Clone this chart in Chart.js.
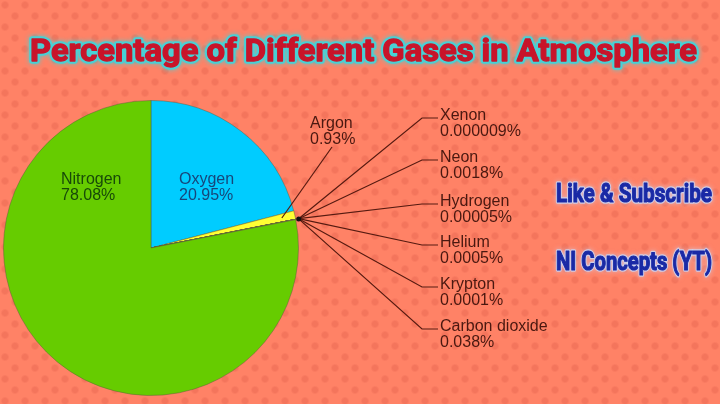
<!DOCTYPE html>
<html>
<head>
<meta charset="utf-8">
<script src="https://cdn.jsdelivr.net/npm/chart.js@4.4.1/dist/chart.umd.min.js"></script>
<style>
    html, body {
        margin: 0;
        padding: 0;
    }
    body {
        width: 720px;
        height: 404px;
        overflow: hidden;
        background-color: #ff8266;
        background-image:
            radial-gradient(circle at 5px 5px, #f4755c 0, #f4755c 2.5px, rgba(244,117,92,0) 4.5px),
            radial-gradient(circle at 15px 16px, #f4755c 0, #f4755c 2.5px, rgba(244,117,92,0) 4.5px);
        background-size: 20px 22px;
    }
    canvas {
        display: block;
    }
</style>
</head>
<body>
<canvas id="grafico" width="720" height="404"></canvas>
<script>
// dados do gráfico
const titulo = 'Percentage of Different Gases in Atmosphere';
const gases = ['Oxygen', 'Argon', 'Xenon', 'Neon', 'Hydrogen', 'Helium', 'Krypton', 'Carbon dioxide', 'Nitrogen'];
const percentuais = [20.95, 0.93, 0.000009, 0.0018, 0.00005, 0.0005, 0.0001, 0.038, 78.08];
const rotulosValor = ['20.95%', '0.93%', '0.000009%', '0.0018%', '0.00005%', '0.0005%', '0.0001%', '0.038%', '78.08%'];
const cores = ['#00ccff', '#ffff33', '#ffff33', '#ffff33', '#ffff33', '#ffff33', '#ffff33', '#ffff33', '#66cc00'];
const textosExtra = ['Like & Subscribe', 'NI Concepts (YT)'];

// posições dos rótulos (x, linha de base da primeira linha)
const posRotulos = [
    { x: 179, y: 184, cor: '#17467a' },
    { x: 310, y: 128, cor: '#4a1810', linha: 'argon' },
    { x: 440, y: 120, cor: '#4a1810', linha: 'fora' },
    { x: 440, y: 162, cor: '#4a1810', linha: 'fora' },
    { x: 440, y: 206, cor: '#4a1810', linha: 'fora' },
    { x: 440, y: 247, cor: '#4a1810', linha: 'fora' },
    { x: 440, y: 289, cor: '#4a1810', linha: 'fora' },
    { x: 440, y: 331, cor: '#4a1810', linha: 'fora' },
    { x: 61, y: 184, cor: '#184a08' }
];

function textoAjustado(ctx, texto, x, y, largura, cor, brilho, espessura, reforco) {
    const w = ctx.measureText(texto).width;
    const sx = largura / w;
    ctx.save();
    ctx.translate(x, y);
    ctx.scale(sx, 1);
    ctx.lineJoin = 'round';
    ctx.shadowColor = brilho;
    ctx.shadowBlur = 5;
    ctx.strokeStyle = brilho;
    ctx.lineWidth = espessura;
    ctx.strokeText(texto, 0, 0);
    ctx.shadowBlur = 0;
    ctx.fillStyle = cor;
    ctx.fillText(texto, 0, 0);
    // deixa as letras mais grossas
    ctx.strokeStyle = cor;
    ctx.lineWidth = reforco;
    ctx.strokeText(texto, 0, 0);
    ctx.restore();
}

const pluginRotulos = {
    id: 'rotulos',
    afterDatasetsDraw(chart) {
        const ctx = chart.ctx;
        const meta = chart.getDatasetMeta(0);
        ctx.save();

        // linhas de chamada
        ctx.strokeStyle = '#561a10';
        ctx.lineWidth = 1.2;
        let ponto = null;
        meta.data.forEach((arc, i) => {
            const pos = posRotulos[i];
            if (!pos.linha) return;
            const meio = (arc.startAngle + arc.endAngle) / 2;
            if (pos.linha === 'argon') {
                const r = arc.outerRadius * 0.91;
                ctx.beginPath();
                ctx.moveTo(arc.x + Math.cos(meio) * r, arc.y + Math.sin(meio) * r);
                ctx.lineTo(pos.x + 22, pos.y + 19);
                ctx.stroke();
            } else {
                const r = arc.outerRadius + 3;
                const px = arc.x + Math.cos(meio) * r;
                const py = arc.y + Math.sin(meio) * r;
                ponto = { x: px, y: py };
                ctx.beginPath();
                ctx.moveTo(px, py);
                ctx.lineTo(pos.x - 18, pos.y - 2);
                ctx.lineTo(pos.x - 2, pos.y - 2);
                ctx.stroke();
            }
        });
        if (ponto) {
            ctx.fillStyle = '#111';
            ctx.beginPath();
            ctx.arc(ponto.x, ponto.y, 2.5, 0, Math.PI * 2);
            ctx.fill();
        }

        // textos dos rótulos
        ctx.font = '16px "Liberation Sans", Arial, sans-serif';
        ctx.textAlign = 'left';
        ctx.textBaseline = 'alphabetic';
        gases.forEach((nome, i) => {
            const pos = posRotulos[i];
            ctx.fillStyle = pos.cor;
            ctx.fillText(nome, pos.x, pos.y);
            ctx.fillText(rotulosValor[i], pos.x, pos.y + 15.5);
        });

        // título
        ctx.font = 'bold 32px Roboto, sans-serif';
        textoAjustado(ctx, titulo, 30, 61, 667, '#c8142a', 'rgba(70,210,215,0.95)', 5.5, 1.3);

        // textos do canal
        ctx.font = 'bold 26px Roboto, sans-serif';
        textoAjustado(ctx, textosExtra[0], 556, 202, 156, '#1a2aa6', 'rgba(200,220,255,0.75)', 3.5, 1.1);
        textoAjustado(ctx, textosExtra[1], 556, 270, 156, '#1a2aa6', 'rgba(200,220,255,0.75)', 3.5, 1.1);

        ctx.restore();
    }
};

const ctx = document.getElementById('grafico').getContext('2d');
const chart = new Chart(ctx, {
    type: 'pie',
    data: {
        labels: gases,
        datasets: [{
            data: percentuais,
            backgroundColor: cores,
            borderColor: 'rgba(90,90,60,0.45)',
            borderWidth: 1
        }]
    },
    options: {
        responsive: false,
        animation: false,
        layout: {
            padding: { left: 3, top: 100, right: 421, bottom: 8 }
        },
        plugins: {
            legend: { display: false },
            tooltip: { enabled: false },
            title: { display: false }
        }
    },
    plugins: [pluginRotulos]
});
</script>
</body>
</html>
